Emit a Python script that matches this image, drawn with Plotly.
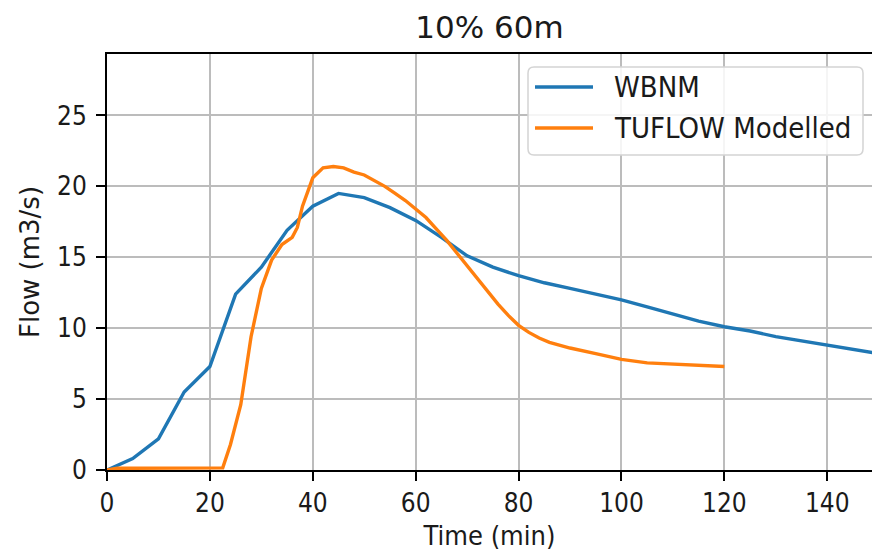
import plotly.graph_objects as go

# WBNM hydrograph (5-minute output)
wbnm_time = [0, 5, 10, 15, 20, 25, 30, 35, 40, 45, 50, 55, 60, 65, 70, 75, 80,
             85, 90, 95, 100, 105, 110, 115, 120, 125, 130, 135, 140, 145, 150]
wbnm_flow = [0.0, 0.8, 2.2, 5.5, 7.3, 12.4, 14.3, 16.9, 18.6, 19.5, 19.2, 18.5,
             17.6, 16.4, 15.1, 14.3, 13.7, 13.2, 12.8, 12.4, 12.0, 11.5, 11.0,
             10.5, 10.1, 9.8, 9.4, 9.1, 8.8, 8.5, 8.2]

# TUFLOW modelled hydrograph
tuflow_time = [0, 2, 5, 10, 15, 20, 22.5, 24, 26, 28, 30, 32, 34, 36, 37, 38,
               40, 42, 44, 46, 48, 50, 52, 54, 56, 58, 60, 62, 64, 66, 68, 70,
               72, 74, 76, 78, 80, 82, 84, 86, 88, 90, 95, 100, 105, 110, 115, 120]
tuflow_flow = [0.0, 0.12, 0.12, 0.12, 0.12, 0.12, 0.15, 1.8, 4.6, 9.4, 12.8,
               14.8, 15.9, 16.4, 17.1, 18.6, 20.6, 21.3, 21.4, 21.3, 21.0, 20.8,
               20.4, 20.0, 19.5, 19.0, 18.4, 17.8, 17.0, 16.2, 15.3, 14.4, 13.5,
               12.6, 11.7, 10.9, 10.2, 9.7, 9.3, 9.0, 8.8, 8.6, 8.2, 7.8, 7.55,
               7.45, 7.35, 7.3]

series_names = ["WBNM", "TUFLOW Modelled"]

x_ticks = [0, 20, 40, 60, 80, 100, 120, 140]
y_ticks = [0, 5, 10, 15, 20, 25]

BLUE = "#1f77b4"
ORANGE = "#ff7f0e"
GRID = "#bcbcbc"
TEXT = "#1a1a1a"
COND = "DejaVu Sans Condensed, DejaVu Sans, sans-serif"

W, H = 872, 559
ML, MR, MT, MB = 107, 0, 54, 89
PW, PH = W - ML - MR, H - MT - MB


def px(xp):
    """Pixel x -> paper x."""
    return (xp - ML) / PW


def py(yp):
    """Pixel y -> paper y."""
    return (H - MB - yp) / PH


fig = go.Figure()
fig.add_trace(go.Scatter(x=wbnm_time, y=wbnm_flow, mode="lines",
                         name=series_names[0],
                         line=dict(color=BLUE, width=3.4)))
fig.add_trace(go.Scatter(x=tuflow_time, y=tuflow_flow, mode="lines",
                         name=series_names[1],
                         line=dict(color=ORANGE, width=3.4)))

# Legend drawn as a framed box with long line handles
bx0, bx1, by0, by1, r = 528, 863, 67, 155, 6
shapes = [dict(
    type="path", xref="paper", yref="paper",
    path=(f"M{px(bx0 + r)},{py(by0)} L{px(bx1 - r)},{py(by0)} "
          f"Q{px(bx1)},{py(by0)} {px(bx1)},{py(by0 + r)} "
          f"L{px(bx1)},{py(by1 - r)} "
          f"Q{px(bx1)},{py(by1)} {px(bx1 - r)},{py(by1)} "
          f"L{px(bx0 + r)},{py(by1)} "
          f"Q{px(bx0)},{py(by1)} {px(bx0)},{py(by1 - r)} "
          f"L{px(bx0)},{py(by0 + r)} "
          f"Q{px(bx0)},{py(by0)} {px(bx0 + r)},{py(by0)} Z"),
    fillcolor="rgba(255,255,255,0.85)",
    line=dict(color="#d4d4d4", width=1.5), layer="above")]
annotations = []
for i, (name, color) in enumerate(zip(series_names, [BLUE, ORANGE])):
    yrow = 87 + i * 41
    shapes.append(dict(type="line", xref="paper", yref="paper",
                       x0=px(535), x1=px(593), y0=py(yrow), y1=py(yrow),
                       line=dict(color=color, width=3.4), layer="above"))
    annotations.append(dict(xref="paper", yref="paper", x=px(612), y=py(yrow),
                            xanchor="left", yanchor="middle", showarrow=False,
                            text=name,
                            font=dict(family=COND, size=29, color=TEXT)))

fig.update_layout(
    width=W, height=H,
    margin=dict(l=ML, r=MR, t=MT, b=MB),
    paper_bgcolor="white", plot_bgcolor="white",
    title=dict(text="10% 60m", x=0.5, xref="paper", xanchor="center",
               y=1 - 27 / H, yref="container", yanchor="middle",
               font=dict(family="DejaVu Sans, sans-serif", size=31,
                         color=TEXT)),
    showlegend=False,
    shapes=shapes,
    annotations=annotations,
)

fig.update_xaxes(
    range=[0, 148.7], tickvals=x_ticks, ticktext=[str(v) for v in x_ticks],
    showgrid=True, gridcolor=GRID, gridwidth=1.8, zeroline=False,
    showline=True, linecolor="black", linewidth=2, mirror=True,
    ticks="outside", ticklen=9, tickwidth=2, tickcolor="black",
    tickfont=dict(family=COND, size=26, color=TEXT),
    title=dict(text="Time (min)", standoff=9,
               font=dict(family=COND, size=27, color=TEXT)),
)
fig.update_yaxes(
    range=[0, 29.33], tickvals=y_ticks, ticktext=[str(v) for v in y_ticks],
    showgrid=True, gridcolor=GRID, gridwidth=1.8, zeroline=False,
    showline=True, linecolor="black", linewidth=2, mirror=False,
    ticks="outside", ticklen=9, tickwidth=2, tickcolor="black",
    ticklabelstandoff=4,
    tickfont=dict(family=COND, size=26, color=TEXT),
    title=dict(text="Flow (m3/s)", standoff=10,
               font=dict(family="DejaVu Sans, sans-serif", size=26,
                         color=TEXT)),
)

fig.write_html("out.html")
